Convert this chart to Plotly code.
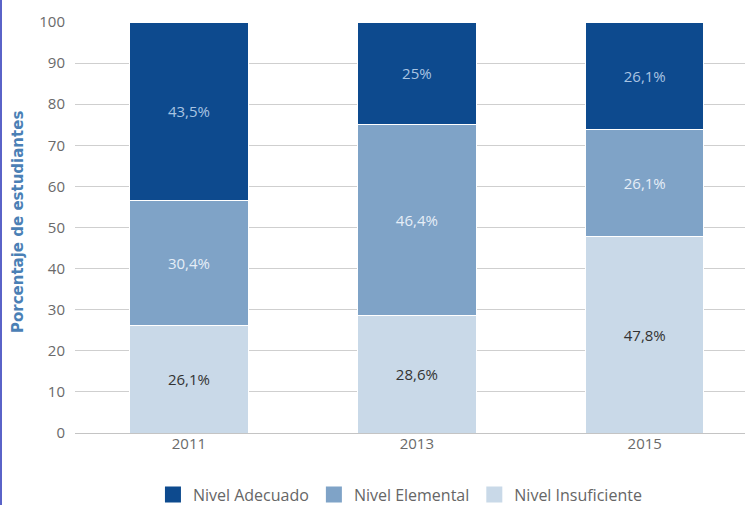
import plotly.graph_objects as go

years = ["2011", "2013", "2015"]
insuficiente = [26.1, 28.6, 47.8]
elemental = [30.4, 46.4, 26.1]
adecuado = [43.5, 25, 26.1]
y_ticks = [0, 10, 20, 30, 40, 50, 60, 70, 80, 90, 100]

def lab(vals):
    return [(f"{v:g}".replace(".", ",") + "%") for v in vals]

font = "Open Sans"
fig = go.Figure()
series = [
    ("Nivel Insuficiente", insuficiente, "#c9d9e8", "#333333"),
    ("Nivel Elemental", elemental, "#7fa3c7", "#e6eef7"),
    ("Nivel Adecuado", adecuado, "#0d4a8e", "#a9c4e2"),
]
for name, vals, col, tcol in series:
    fig.add_trace(go.Bar(
        x=years, y=vals, name=name, text=lab(vals), showlegend=False,
        textposition="inside", insidetextanchor="middle",
        textfont=dict(color=tcol, size=15, family=font),
        marker=dict(color=col, line=dict(color="white", width=1)),
        width=0.52,
    ))
for name, vals, col, tcol in series:
    fig.add_trace(go.Scatter(
        x=[None], y=[None], mode="markers", name=name,
        marker=dict(symbol="square", size=16, color=col),
    ))

fig.update_layout(
    barmode="stack",
    width=745, height=505,
    margin=dict(l=75, r=0, t=22, b=72, autoexpand=False),
    plot_bgcolor="white", paper_bgcolor="white",
    font=dict(family=font, color="#6a6a6a", size=15),
    uniformtext=dict(mode="show", minsize=15),
    legend=dict(orientation="h", x=0.485, xanchor="center", y=-0.15, yanchor="middle",
                traceorder="reversed", font=dict(size=16, color="#666666"),
                itemwidth=30, tracegroupgap=0),
    xaxis=dict(range=[-0.5, 2.44], showline=False, ticks="", automargin=False,
               tickfont=dict(size=15, color="#6a6a6a")),
    yaxis=dict(range=[0, 100], tickvals=y_ticks, showgrid=True, gridcolor="#cfcfcf",
               gridwidth=1, zeroline=True, zerolinecolor="#c4c4c4", zerolinewidth=1,
               ticks="", ticklabelstandoff=9, automargin=False,
               tickfont=dict(size=15, color="#6a6a6a")),
    annotations=[dict(text="<b>Porcentaje de estudiantes</b>", textangle=-90,
                      xref="paper", yref="paper", x=(18 - 75) / 670, y=(433 - 222) / 411,
                      xanchor="center", yanchor="middle", showarrow=False,
                      font=dict(family="DejaVu Sans", size=15, color="#4a80b5"))],
    shapes=[dict(type="line", xref="paper", yref="paper", x0=-74/670, x1=-74/670,
                 y0=-72/411, y1=1 + 22/411, line=dict(color="#5a63c8", width=2))],
)
fig.write_html("out.html", config={"displayModeBar": False},
               post_script="document.body.style.margin='0';document.body.style.overflow='hidden';")
